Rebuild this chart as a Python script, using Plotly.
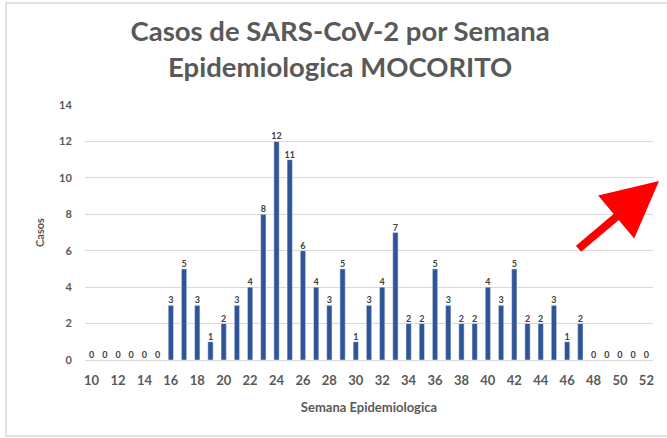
import plotly.graph_objects as go

weeks = list(range(10, 53))
cases = [0, 0, 0, 0, 0, 0,
         3, 5, 3, 1, 2, 3, 4, 8, 12, 11, 6, 4, 3, 5, 1, 3, 4, 7, 2, 2, 5, 3, 2, 2, 4, 3, 5, 2, 2, 3, 1, 2,
         0, 0, 0, 0, 0]
title_text = "Casos de SARS-CoV-2 por Semana<br>Epidemiologica MOCORITO"
x_title = "Semana Epidemiologica"
y_title = "Casos"

FONT = "Lato"
GRAY = "#595959"

fig = go.Figure(go.Bar(
    x=weeks, y=cases,
    marker_color="#2F5597",
    text=[str(v) for v in cases],
    textposition="outside",
    constraintext="none",
    textfont=dict(family=FONT, size=9, color="#404040", weight="bold"),
    cliponaxis=False,
    hoverinfo="skip",
))

fig.update_layout(
    width=667, height=438,
    margin=dict(l=85, r=14, t=105, b=78),
    paper_bgcolor="white", plot_bgcolor="white",
    bargap=0.6,
    showlegend=False,
    title=dict(text=title_text, x=0.51, xanchor="center", y=0.906, yanchor="middle",
               font=dict(family=FONT, size=27.5, color=GRAY, weight="bold")),
    xaxis=dict(range=[9.5, 52.5], tickmode="linear", tick0=10, dtick=2,
               showgrid=False, zeroline=False, showline=False,
               ticks="outside", ticklen=8, tickcolor="rgba(0,0,0,0)",
               tickfont=dict(family=FONT, size=13, color=GRAY, weight="bold"),
               title=dict(text=x_title, standoff=16,
                          font=dict(family=FONT, size=13, color=GRAY, weight="bold"))),
    yaxis=dict(range=[0, 14], dtick=2, showgrid=True, gridcolor="#D9D9D9", gridwidth=1,
               zeroline=True, zerolinecolor="#D9D9D9", zerolinewidth=1,
               ticks="outside", ticklen=10, tickcolor="rgba(0,0,0,0)",
               tickfont=dict(family=FONT, size=11, color=GRAY, weight="bold"),
               title=dict(text=y_title, standoff=12,
                          font=dict(family=FONT, size=11, color=GRAY, weight="bold"))),
)

# chart frame
fig.add_shape(type="rect", xref="paper", yref="paper",
              x0=-0.139, x1=1.1, y0=-0.298, y1=1.4,
              line=dict(color="#D9D9D9", width=1.5), layer="below")

# red arrow
fig.add_annotation(xref="paper", yref="paper", x=1.0106, y=0.702,
                   ax=-82, ay=69, text="", showarrow=True,
                   arrowhead=2, arrowsize=1.4, arrowwidth=8, arrowcolor="#FF0000",
                   standoff=0)

fig.write_html("out.html", config={"displayModeBar": False},
               post_script="document.body.style.margin='0';document.body.style.overflow='hidden';")
